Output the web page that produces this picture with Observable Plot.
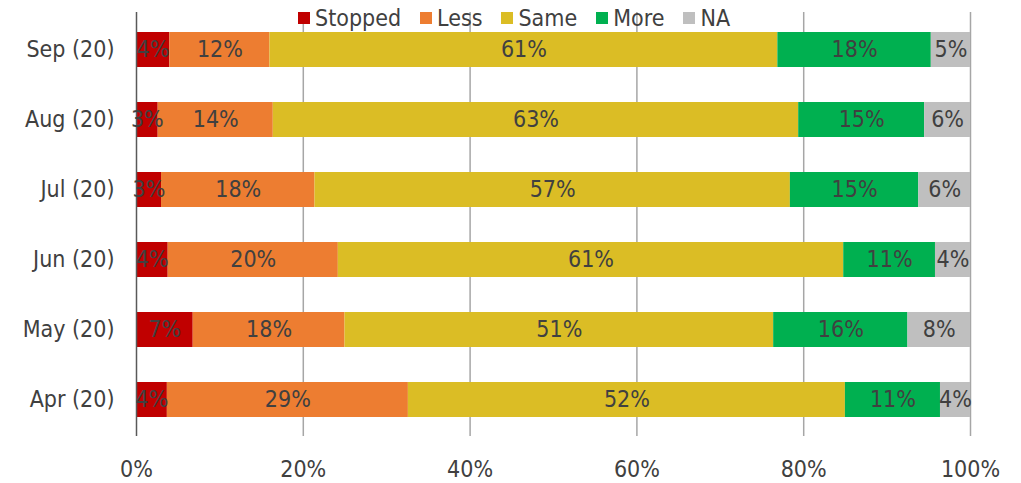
<!DOCTYPE html>
<html>
<head>
<meta charset="utf-8">
<script src="https://cdn.jsdelivr.net/npm/d3@7"></script>
<script src="https://cdn.jsdelivr.net/npm/@observablehq/plot@0.6"></script>
<style>
  html, body { margin: 0; padding: 0; background: #fff; }
  #wrap { position: relative; width: 1021px; height: 483px; font-family: "DejaVu Sans Condensed", "DejaVu Sans", sans-serif; font-stretch: condensed; color: #404040; }
  #legend { position: absolute; left: 298px; top: 5px; display: flex; align-items: center; font-size: 23px; line-height: 26px; background: transparent; z-index: 2; }
  #legend .item { display: flex; align-items: center; margin-right: 19px; }
  #legend .sw { width: 12px; height: 12px; margin-right: 5px; }
</style>
</head>
<body>
<div id="wrap"><div id="legend"></div><div id="chart"></div></div>
<script>
const months = ["Sep (20)", "Aug (20)", "Jul (20)", "Jun (20)", "May (20)", "Apr (20)"];
const categories = ["Stopped", "Less", "Same", "More", "NA"];
const colors = ["#C00000", "#ED7D31", "#DBBD25", "#00B050", "#BFBFBF"];
const stopped = [4.0, 2.6, 3.0, 3.8, 6.8, 3.7];
const less    = [12.0, 13.8, 18.4, 20.4, 18.2, 28.9];
const same    = [60.9, 63.0, 57.0, 60.6, 51.4, 52.4];
const more    = [18.4, 15.1, 15.4, 11.0, 16.1, 11.4];
const na      = [4.7, 5.5, 6.2, 4.2, 7.5, 3.6];
const xTicks  = [0, 20, 40, 60, 80, 100];

const series = [stopped, less, same, more, na];
const data = [];
months.forEach((m, i) => {
  categories.forEach((c, j) => {
    data.push({month: m, cat: c, value: series[j][i]});
  });
});

const textColor = "#404040";
const ff = "'DejaVu Sans Condensed', 'DejaVu Sans', sans-serif";

const plot = Plot.plot({
  width: 1021,
  height: 483,
  marginLeft: 136,
  marginRight: 51,
  marginTop: 12,
  marginBottom: 47,
  style: {fontFamily: ff, fontStretch: "condensed", color: textColor, background: "transparent"},
  x: {domain: [0, 100]},
  y: {domain: months, paddingInner: 0.5, paddingOuter: 0.25},
  color: {domain: categories, range: colors},
  marks: [
    Plot.ruleX(xTicks.slice(1), {stroke: "#A6A6A6", strokeWidth: 1.5}),
    Plot.barX(data, {x: "value", y: "month", fill: "cat", order: null}),
    Plot.ruleX([0], {stroke: "#595959", strokeWidth: 1.5}),
    Plot.text(data, Plot.stackX({
      x: "value", y: "month", z: "cat", order: null,
      text: d => Math.round(d.value) + "%",
      fill: textColor, fontSize: 23
    })),
    Plot.axisX({ticks: xTicks, tickFormat: d => d + "%", tickSize: 0, tickPadding: 24, fontSize: 23, label: null}),
    Plot.axisY({tickSize: 0, tickPadding: 22, fontSize: 23, label: null})
  ]
});
document.getElementById("chart").appendChild(plot);

const legend = document.getElementById("legend");
categories.forEach((c, j) => {
  const item = document.createElement("div");
  item.className = "item";
  const sw = document.createElement("div");
  sw.className = "sw";
  sw.style.background = colors[j];
  const t = document.createElement("span");
  t.textContent = c;
  item.appendChild(sw);
  item.appendChild(t);
  legend.appendChild(item);
});
</script>
</body>
</html>
